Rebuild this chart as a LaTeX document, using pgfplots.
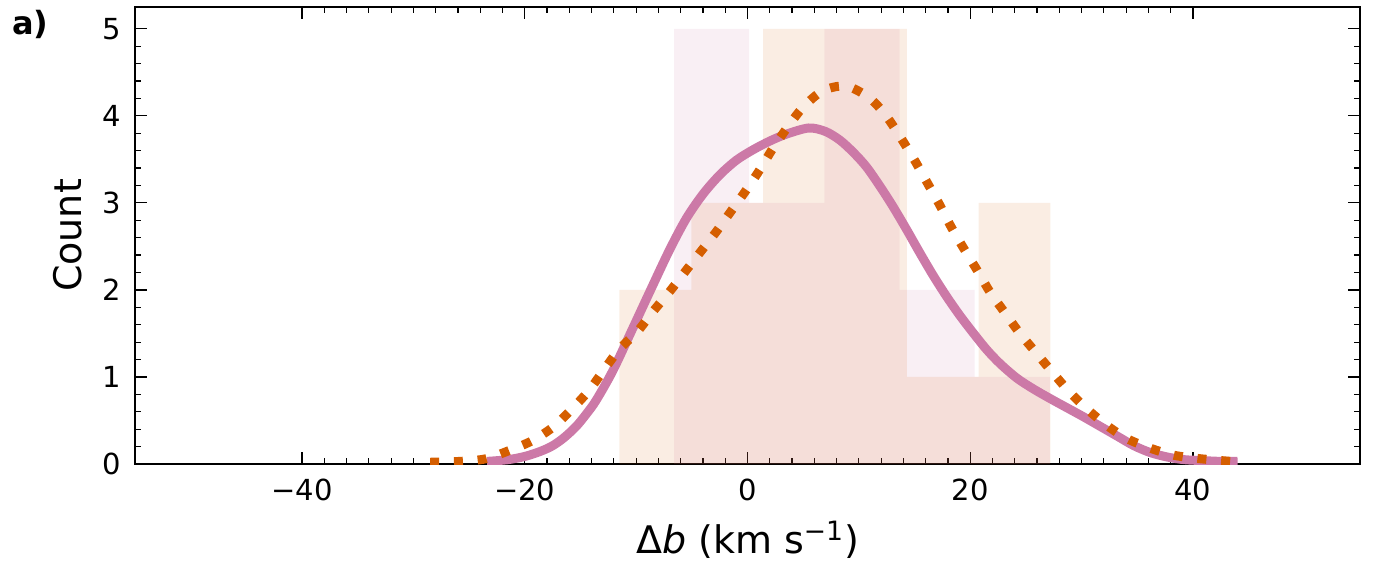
\documentclass[border=0pt]{standalone}
\usepackage{fontspec}
\setmainfont{DejaVu Sans}
\usepackage{pgfplots}
\pgfplotsset{compat=1.18}

\definecolor{kdepink}{HTML}{CC79A7}
\definecolor{kdeorange}{HTML}{D55E00}

\begin{document}
\begin{tikzpicture}
% page is 1375 x 563 px at 0.5pt per px
\useasboundingbox (0,0) rectangle (687.5pt,281.5pt);
\node[anchor=base west, font=\fontsize{16pt}{18pt}\selectfont\bfseries] at (2.5pt,264pt) {a)};
\begin{axis}[
    at={(67.5pt,49.5pt)}, anchor=south west,
    scale only axis,
    width=612.5pt, height=228.5pt,
    xmin=-55, xmax=55,
    ymin=0, ymax=5.25,
    xtick={-40,-20,0,20,40},
    xticklabels={−40,−20,0,20,40},
    ytick={0,1,2,3,4,5},
    minor x tick num=9,
    minor y tick num=4,
    tick pos=both,
    tick align=inside,
    major tick length=6pt,
    minor tick length=3pt,
    every tick/.style={black, line width=0.6pt},
    axis line style={line width=1pt},
    /pgf/number format/assume math mode=true,
    tick label style={font=\fontsize{14.5pt}{17pt}\selectfont, inner sep=0pt},
    xticklabel style={yshift=-7.5pt},
    yticklabel style={xshift=-7pt},
    xlabel={Δ\textit{b} (km s\textsuperscript{−1})},
    ylabel={Count},
    label style={font=\fontsize{19pt}{22pt}\selectfont},
    xlabel style={at={(axis description cs:0.5,0)}, anchor=base, yshift=-44.5pt},
    ylabel style={at={(axis description cs:-0.0433,0.5)}, anchor=base},
    clip=true,
]

% histogram, pink sample
\addplot[ybar interval, fill=kdepink, fill opacity=0.12, draw=none] coordinates {
    (-6.6,5) (0.15,3) (6.9,5) (13.65,2) (20.4,1) (27.15,1)
};

% histogram, orange sample
\addplot[ybar interval, fill=kdeorange, fill opacity=0.11, draw=none] coordinates {
    (-11.5,2) (-5.05,3) (1.4,5) (7.85,5) (14.3,1) (20.75,3) (27.2,3)
};

% KDE, pink (solid)
\addplot[kdepink, line width=4.5pt, smooth, line cap=butt] coordinates {
    (-23.4,0.03) (-21.5,0.05) (-19.9,0.09) (-18.5,0.15) (-17.5,0.21)
    (-16.5,0.30) (-15.4,0.43) (-14.5,0.57) (-13.6,0.73) (-12.1,1.07)
    (-10.3,1.56) (-8.7,2.0) (-7,2.46) (-5.5,2.82) (-4,3.10) (-2.5,3.32)
    (-1,3.49) (0.5,3.61) (2,3.71) (3.5,3.79) (5.5,3.86) (7,3.82)
    (8.3,3.72) (9.5,3.58) (10.7,3.41) (12,3.17) (13.1,2.95) (14.3,2.69)
    (15.5,2.42) (16.7,2.16) (17.9,1.92) (19.1,1.70) (20.3,1.50) (21.5,1.31)
    (22.7,1.15) (24.2,0.985) (25.7,0.86) (27.2,0.75) (28.7,0.645) (30.2,0.54)
    (31.7,0.43) (33.2,0.32) (34.7,0.21) (36.2,0.13) (37.7,0.08) (39.2,0.05)
    (40.7,0.04) (42.5,0.03) (44,0.03)
};

% KDE, orange (dotted)
\addplot[kdeorange, line width=4.5pt, smooth, line cap=butt,
         dash pattern=on 4.5pt off 7.4pt] coordinates {
    (-28.5,0.02) (-25.8,0.03) (-23.5,0.06) (-21.3,0.16) (-19.3,0.27)
    (-17.4,0.43) (-15.7,0.64) (-14.2,0.85) (-12.9,1.08) (-11.5,1.32)
    (-9.9,1.52) (-8.5,1.75) (-7.0,1.98) (-5.6,2.21) (-4.2,2.44) (-2.8,2.67)
    (-1.5,2.90) (-0.1,3.15) (1.1,3.38) (2.3,3.63) (3.6,3.87) (5.0,4.10)
    (6.8,4.29) (8.9,4.34) (11.0,4.20) (12.5,3.99) (13.8,3.74) (15.0,3.49)
    (16.1,3.24) (17.2,2.99) (18.3,2.72) (19.4,2.48) (20.6,2.23) (21.8,1.97)
    (23.1,1.74) (24.4,1.51) (25.9,1.28) (27.4,1.05) (28.9,0.83) (30.5,0.63)
    (32.3,0.44) (34.1,0.29) (36.2,0.18) (38.3,0.10) (40.7,0.06) (43.4,0.03)
};

\end{axis}
\end{tikzpicture}
\end{document}
